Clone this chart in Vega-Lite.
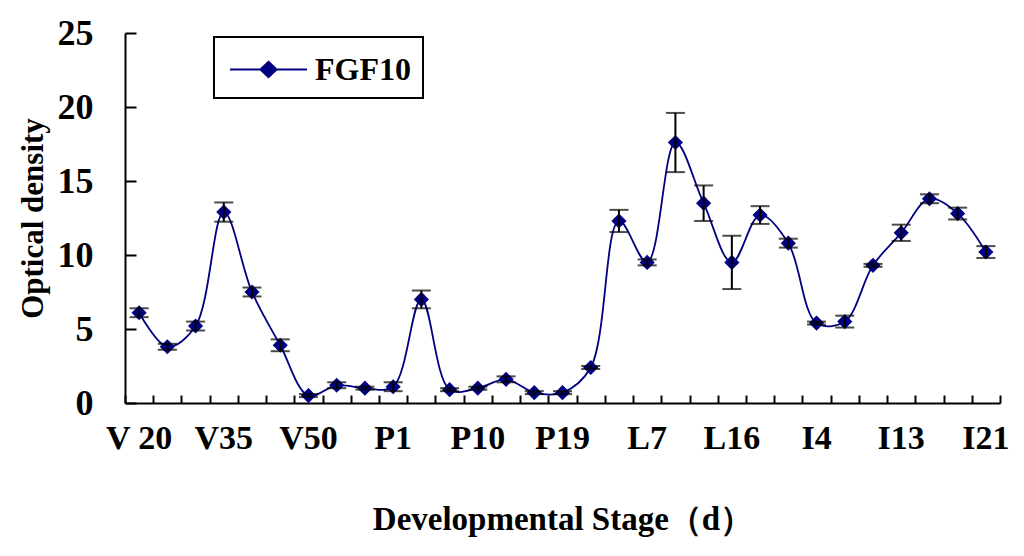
{
  "$schema": "https://vega.github.io/schema/vega-lite/v6.json",
  "width": 875,
  "height": 370,
  "autosize": {"type": "none"},
  "padding": {"left": 125, "top": 33, "right": 24, "bottom": 153},
  "background": "white",
  "config": {
    "view": {"stroke": null},
    "font": "Liberation Serif",
    "axis": {
      "labelFont": "Liberation Serif",
      "labelFontWeight": "bold",
      "labelColor": "black",
      "titleFont": "Liberation Serif",
      "titleFontWeight": "bold",
      "titleColor": "black",
      "domainColor": "black",
      "domainWidth": 2,
      "tickColor": "black",
      "tickWidth": 2,
      "grid": false
    }
  },
  "data": {
    "values": [
      {"stage": "V 20", "mean": 6.1, "err": 0.3, "series": "FGF10"},
      {"stage": "V25", "mean": 3.8, "err": 0.2, "series": "FGF10"},
      {"stage": "V30", "mean": 5.2, "err": 0.3, "series": "FGF10"},
      {"stage": "V35", "mean": 12.9, "err": 0.65, "series": "FGF10"},
      {"stage": "V40", "mean": 7.5, "err": 0.3, "series": "FGF10"},
      {"stage": "V45", "mean": 3.9, "err": 0.4, "series": "FGF10"},
      {"stage": "V50", "mean": 0.5, "err": 0.1, "series": "FGF10"},
      {"stage": "V55", "mean": 1.2, "err": 0.2, "series": "FGF10"},
      {"stage": "V60", "mean": 1.0, "err": 0.1, "series": "FGF10"},
      {"stage": "P1", "mean": 1.1, "err": 0.3, "series": "FGF10"},
      {"stage": "P4", "mean": 7.0, "err": 0.6, "series": "FGF10"},
      {"stage": "P7", "mean": 0.9, "err": 0.1, "series": "FGF10"},
      {"stage": "P10", "mean": 1.0, "err": 0.1, "series": "FGF10"},
      {"stage": "P13", "mean": 1.6, "err": 0.2, "series": "FGF10"},
      {"stage": "P16", "mean": 0.7, "err": 0.1, "series": "FGF10"},
      {"stage": "P19", "mean": 0.7, "err": 0.1, "series": "FGF10"},
      {"stage": "L1", "mean": 2.4, "err": 0.1, "series": "FGF10"},
      {"stage": "L4", "mean": 12.3, "err": 0.75, "series": "FGF10"},
      {"stage": "L7", "mean": 9.5, "err": 0.2, "series": "FGF10"},
      {"stage": "L10", "mean": 17.6, "err": 2.0, "series": "FGF10"},
      {"stage": "L13", "mean": 13.5, "err": 1.2, "series": "FGF10"},
      {"stage": "L16", "mean": 9.5, "err": 1.8, "series": "FGF10"},
      {"stage": "L19", "mean": 12.7, "err": 0.6, "series": "FGF10"},
      {"stage": "I1", "mean": 10.8, "err": 0.3, "series": "FGF10"},
      {"stage": "I4", "mean": 5.4, "err": 0.1, "series": "FGF10"},
      {"stage": "I7", "mean": 5.5, "err": 0.4, "series": "FGF10"},
      {"stage": "I10", "mean": 9.3, "err": 0.1, "series": "FGF10"},
      {"stage": "I13", "mean": 11.5, "err": 0.55, "series": "FGF10"},
      {"stage": "I16", "mean": 13.8, "err": 0.3, "series": "FGF10"},
      {"stage": "I19", "mean": 12.8, "err": 0.4, "series": "FGF10"},
      {"stage": "I21", "mean": 10.2, "err": 0.4, "series": "FGF10"}
    ]
  },
  "resolve": {"axis": {"x": "independent", "y": "independent"}},
  "layer": [
    {
      "mark": {"type": "line", "interpolate": "catmull-rom", "strokeWidth": 1.8},
      "encoding": {
        "x": {
          "field": "stage",
          "type": "ordinal",
          "sort": null,
          "scale": {"type": "band", "paddingInner": 0, "paddingOuter": 0},
          "axis": {
            "orient": "bottom",
            "title": "Developmental Stage（d）",
            "titleFontSize": 33,
            "titlePadding": 48,
            "labelFontSize": 34,
            "labelAngle": 0,
            "labelPadding": 18,
            "labelOverlap": false,
            "labelExpr": "indexof(['V 20','V35','V50','P1','P10','P19','L7','L16','I4','I13','I21'], datum.label) >= 0 ? datum.label : ''",
            "ticks": false
          }
        },
        "y": {
          "field": "mean",
          "type": "quantitative",
          "scale": {"domain": [0, 25], "nice": false},
          "axis": {
            "orient": "left",
            "title": "Optical density",
            "titleFontSize": 31,
            "titlePadding": 8,
            "labelFontSize": 36,
            "labelPadding": 32,
            "values": [0, 5, 10, 15, 20, 25],
            "ticks": false
          }
        },
        "color": {
          "field": "series",
          "type": "nominal",
          "scale": {"range": ["#000080"]},
          "legend": {
            "title": null,
            "orient": "none",
            "legendX": 89,
            "legendY": 4,
            "symbolType": "M-2,0H2M0,-0.4L0.42,0L0,0.4L-0.42,0Z",
            "symbolSize": 1480,
            "symbolOffset": 22,
            "symbolStrokeWidth": 2,
            "symbolFillColor": "#000080",
            "symbolStrokeColor": "#000080",
            "labelFont": "Liberation Serif",
            "labelFontWeight": "bold",
            "labelFontSize": 32,
            "labelColor": "black",
            "labelOffset": 26,
            "strokeColor": "black",
            "fillColor": "white",
            "padding": 12,
            "encode": {"legend": {"update": {"strokeWidth": {"value": 2}}}}
          }
        }
      }
    },
    {
      "mark": {"type": "point", "shape": "diamond", "filled": true, "size": 230, "color": "#000080", "opacity": 1},
      "encoding": {
        "x": {
          "field": "stage",
          "type": "ordinal",
          "sort": null,
          "axis": {
            "orient": "bottom",
            "title": null,
            "labels": false,
            "domain": false,
            "tickBand": "extent",
            "tickSize": 8,
            "offset": -8
          }
        },
        "y": {
          "field": "mean",
          "type": "quantitative",
          "axis": {
            "orient": "left",
            "title": null,
            "labels": false,
            "domain": false,
            "values": [0, 5, 10, 15, 20, 25],
            "tickSize": 11,
            "offset": -11
          }
        }
      }
    },
    {
      "mark": {"type": "errorbar", "color": "black", "ticks": {"size": 19, "thickness": 2}, "rule": {"strokeWidth": 2}},
      "encoding": {
        "x": {"field": "stage", "type": "ordinal", "sort": null, "axis": null},
        "y": {"field": "mean", "type": "quantitative", "axis": null},
        "yError": {"field": "err"}
      }
    }
  ]
}
